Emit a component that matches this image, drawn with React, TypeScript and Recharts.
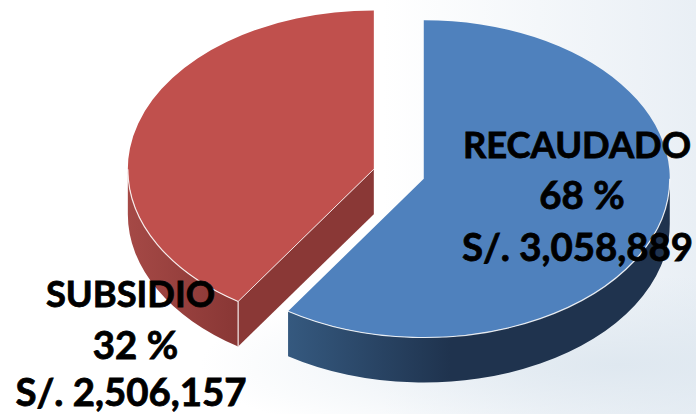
import { PieChart, Pie } from 'recharts';

const categories = ['RECAUDADO', 'SUBSIDIO'];
// slice shares as drawn (the printed percentages don't match the drawn angles)
const shares = [59.3, 40.7];
const percentLabels = ['68 %', '32 %'];
const amountLabels = ['S/. 3,058,889', 'S/. 2,506,157'];

const TOP_COLORS = ['#4f81bd', '#c0504d'];
const WALL_FILLS = ['url(#wallBlue)', 'url(#wallRed)'];
const CUT_COLOR = '#8a3836';

const W = 696;
const H = 414;
const RATIO = 0.645; // squash of the tilted disc
const DEPTH = 45;
const EXPLODE = 0.106;
const RAD = Math.PI / 180;

const LABEL_POS = [
  { xs: [577, 582, 577.5], ys: [158, 209, 261] },
  { xs: [130.5, 135.5, 131], ys: [307, 359, 406] },
];
const LINE_SIZES = [36.3, 38.4, 38.4];

const data = categories.map((name, i) => ({ name, value: shares[i] }));

function Slice(props: any) {
  const { cx, cy, outerRadius: r, startAngle, endAngle, midAngle, index } = props;
  const ox = cx + r * EXPLODE * Math.cos(midAngle * RAD);
  const oy = cy - r * RATIO * EXPLODE * Math.sin(midAngle * RAD);
  const px = (a: number, dz = 0) => `${ox + r * Math.cos(a * RAD)} ${oy - r * RATIO * Math.sin(a * RAD) + dz}`;
  const ry = r * RATIO;
  const large = Math.abs(endAngle - startAngle) > 180 ? 1 : 0;

  // front part of the rim, where the wall faces the viewer
  const lo = Math.max(Math.min(startAngle, endAngle), -180);
  const hi = Math.min(Math.max(startAngle, endAngle), 0);
  const hiA = hi >= lo ? hi : lo;
  const wall =
    `M${px(hiA)} A${r} ${ry} 0 0 1 ${px(lo)} L${px(lo, DEPTH)} A${r} ${ry} 0 0 0 ${px(hiA, DEPTH)} Z`;
  const rim = `M${px(hiA)} A${r} ${ry} 0 0 1 ${px(lo)}`;
  const s = startAngle * RAD;
  const showCut = Math.cos(s) < 0 && Math.sin(s) < 0;
  const cut = `M${ox} ${oy} L${px(startAngle)} L${px(startAngle, DEPTH)} L${ox} ${oy + DEPTH} Z`;
  const top = `M${ox} ${oy} L${px(startAngle)} A${r} ${ry} 0 ${large} 1 ${px(endAngle)} Z`;

  return (
    <g>
      <path d={wall} fill={WALL_FILLS[index]} />
      {showCut && <path d={cut} fill={CUT_COLOR} />}
      {showCut && (
        <path d={`M${px(startAngle)} L${px(startAngle, DEPTH)}`} stroke="#f3e6e6" strokeWidth={1.2} />
      )}
      <path d={top} fill={TOP_COLORS[index]} />
      <path d={rim} fill="none" stroke="#fff" strokeWidth={1.2} strokeOpacity={0.85} />
      {showCut && <path d={`M${ox} ${oy} L${px(startAngle)}`} stroke="#fff" strokeWidth={1} strokeOpacity={0.8} />}
    </g>
  );
}

function SliceLabel(props: any) {
  const { index } = props;
  const pos = LABEL_POS[index];
  const lines = [categories[index], percentLabels[index], amountLabels[index]];
  return (
    <text
      textAnchor="middle"
      fontFamily="Lato, 'Open Sans', sans-serif"
      fontWeight={700}
      fill="#000"
      stroke="#000"
      strokeWidth={0.8}
    >
      {lines.map((t, i) => (
        <tspan key={i} x={pos.xs[i]} y={pos.ys[i]} fontSize={LINE_SIZES[i]}>{t}</tspan>
      ))}
    </text>
  );
}

export default function App() {
  return (
    <div
      style={{
        position: 'absolute', left: 0, top: 0, width: W, height: H, overflow: 'hidden',
        background:
          'radial-gradient(ellipse 420px 90px at 620px 365px, #dfe8f0 0%, rgba(223,232,240,0) 100%), linear-gradient(90deg, #ffffff 55%, #e9eff5 100%)',
      }}
    >
      <PieChart width={W} height={H} margin={{ top: 0, right: 0, bottom: 0, left: 0 }}>
        <defs>
          <linearGradient id="wallBlue" gradientUnits="userSpaceOnUse" x1={288} y1={0} x2={450} y2={0}>
            <stop offset="0%" stopColor="#35597f" />
            <stop offset="100%" stopColor="#1f334e" />
          </linearGradient>
          <linearGradient id="wallRed" gradientUnits="userSpaceOnUse" x1={127} y1={0} x2={237} y2={0}>
            <stop offset="0%" stopColor="#a54946" />
            <stop offset="100%" stopColor="#893735" />
          </linearGradient>
        </defs>
        <Pie
          data={data}
          dataKey="value"
          nameKey="name"
          cx={398.8}
          cy={174}
          innerRadius={0}
          outerRadius={246}
          startAngle={90}
          endAngle={-270}
          paddingAngle={0}
          stroke="none"
          shape={Slice}
          label={SliceLabel}
          labelLine={false}
          isAnimationActive={false}
        />
      </PieChart>
    </div>
  );
}
